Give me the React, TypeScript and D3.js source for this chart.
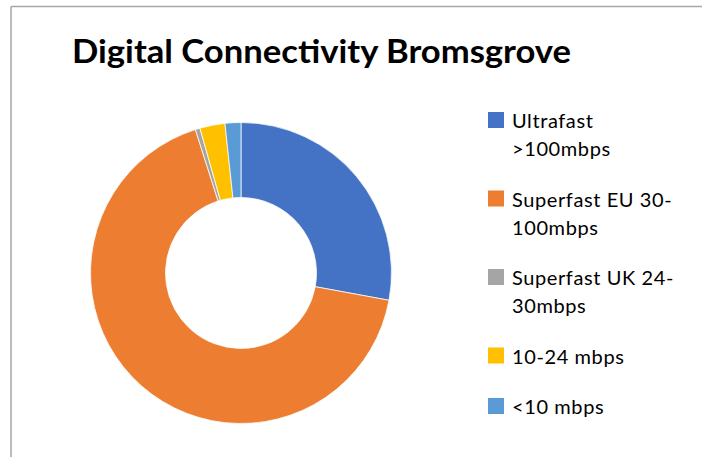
import React from "react";
import * as d3 from "d3";

const categories = [
  "Ultrafast >100mbps",
  "Superfast EU 30-100mbps",
  "Superfast UK 24-30mbps",
  "10-24 mbps",
  "<10 mbps",
];
const legendLines = [
  ["Ultrafast", ">100mbps"],
  ["Superfast EU 30-", "100mbps"],
  ["Superfast UK 24-", "30mbps"],
  ["10-24 mbps"],
  ["<10 mbps"],
];
const values = [27.9, 67.2, 0.5, 2.7, 1.7];
const colors = ["#4472C4", "#ED7D31", "#A5A5A5", "#FFC000", "#5B9BD5"];
const title = "Digital Connectivity Bromsgrove";

export default function App() {
  const W = 702;
  const H = 457;
  const cx = 241;
  const cy = 273;
  const outerR = 150.5;
  const innerR = 75.5;

  const pie = d3
    .pie<number>()
    .sort(null)
    .value((d) => d)(values);
  const arc = d3.arc<d3.PieArcDatum<number>>().innerRadius(innerR).outerRadius(outerR);

  const lineH = 28;
  const gap = 22.5;
  let cursor = 128;
  const legendItems = legendLines.map((lines, i) => {
    const y = cursor;
    cursor += lines.length * lineH + gap;
    return { lines, y, i };
  });

  return (
    <svg
      width={W}
      height={H}
      style={{ position: "absolute", left: 0, top: 0, display: "block" }}
      fontFamily="Lato, 'Noto Sans', sans-serif"
    >
      <rect x={0} y={0} width={W} height={H} fill="#ffffff" />
      <line x1={11} y1={6.5} x2={W} y2={6.5} stroke="#a6a6a6" strokeWidth={1.5} />
      <line x1={11} y1={6.5} x2={11} y2={H} stroke="#a6a6a6" strokeWidth={1.5} />
      <text
        x={72}
        y={63}
        fontSize={33}
        fontWeight="bold"
        fill="#000"
        textLength={499}
        lengthAdjust="spacingAndGlyphs"
      >
        {title}
      </text>
      <g transform={`translate(${cx},${cy})`}>
        {pie.map((d, i) => (
          <path key={categories[i]} d={arc(d) || ""} fill={colors[i]} stroke="#ffffff" strokeWidth={0.75} />
        ))}
      </g>
      <g>
        {legendItems.map(({ lines, y, i }) => (
          <g key={categories[i]}>
            <rect x={488} y={y - 16} width={16} height={16} fill={colors[i]} />
            {lines.map((t, j) => (
              <text key={j} x={512} y={y + j * lineH} fontSize={20} letterSpacing={0.6} fill="#000">
                {t}
              </text>
            ))}
          </g>
        ))}
      </g>
    </svg>
  );
}
